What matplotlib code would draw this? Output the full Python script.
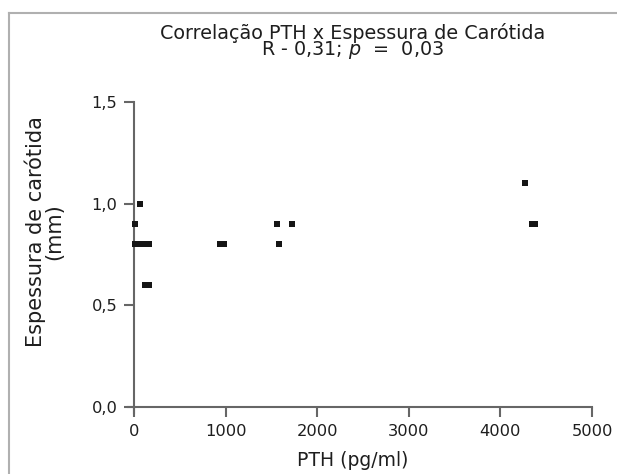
import matplotlib.pyplot as plt
from matplotlib.lines import Line2D

# PTH (pg/ml) vs carotid thickness (mm)
pth = [10, 65, 10, 50, 90, 130, 165, 115, 160, 940, 980, 1560, 1583, 1725, 4270, 4345, 4380]
espessura = [0.9, 1.0, 0.8, 0.8, 0.8, 0.8, 0.8, 0.6, 0.6, 0.8, 0.8, 0.9, 0.8, 0.9, 1.1, 0.9, 0.9]

x_ticks = [0, 1000, 2000, 3000, 4000, 5000]
x_tick_labels = ['0', '1000', '2000', '3000', '4000', '5000']
y_ticks = [0.0, 0.5, 1.0, 1.5]
y_tick_labels = ['0,0', '0,5', '1,0', '1,5']

plt.rcParams['font.family'] = ['DejaVu Sans']
plt.rcParams['mathtext.fontset'] = 'dejavusans'

text_color = '#1e1e1e'
spine_color = '#666666'

fig = plt.figure(figsize=(6.17, 4.74), dpi=100)
ax = fig.add_axes([0.2068, 0.1287, 0.7527, 0.6561])

ax.scatter(pth, espessura, marker='s', s=18, color='#151515', linewidths=0, clip_on=False, zorder=3)

ax.set_xlim(-70, 5000)
ax.set_ylim(-0.03, 1.5)

# axes cross at the origin, each spine a little past the other
for side in ['top', 'right']:
    ax.spines[side].set_visible(False)
ax.spines['left'].set_position(('data', 0))
ax.spines['bottom'].set_position(('data', 0))
ax.spines['left'].set_bounds(-0.03, 1.5)
ax.spines['bottom'].set_bounds(-70, 5000)
for side in ['left', 'bottom']:
    ax.spines[side].set_color(spine_color)
    ax.spines[side].set_linewidth(1.5)

ax.set_xticks(x_ticks)
ax.set_xticklabels(x_tick_labels)
ax.set_yticks(y_ticks)
ax.set_yticklabels(y_tick_labels)
ax.tick_params(axis='both', direction='out', length=7, width=1.5, color=spine_color,
               labelsize=11.7, labelcolor=text_color, pad=5)

ax.set_xlabel('PTH (pg/ml)', fontsize=13.5, color=text_color)
ax.xaxis.set_label_coords(0.485, -0.122)
ax.set_ylabel('Espessura de carótida\n(mm)', fontsize=15, color=text_color, linespacing=0.85)
ax.yaxis.set_label_coords(-0.137, 0.582)

# two-line title, lines set very close as in the original
fig.text(0.571, 1 - 23 / 474, 'Correlação PTH x Espessura de Carótida\nR - 0,31; $p$  =  0,03',
         ha='center', va='top', multialignment='center', linespacing=0.78,
         fontsize=13.8, color=text_color)

# thin grey frame round the figure
fx = 9 / 617
fy = 1 - 13 / 474
fig.add_artist(Line2D([fx, fx], [0, fy], transform=fig.transFigure, color='#b0b0b0', linewidth=1.5))
fig.add_artist(Line2D([fx, 1], [fy, fy], transform=fig.transFigure, color='#b0b0b0', linewidth=1.5))

fig.savefig('out.png', dpi=100)
